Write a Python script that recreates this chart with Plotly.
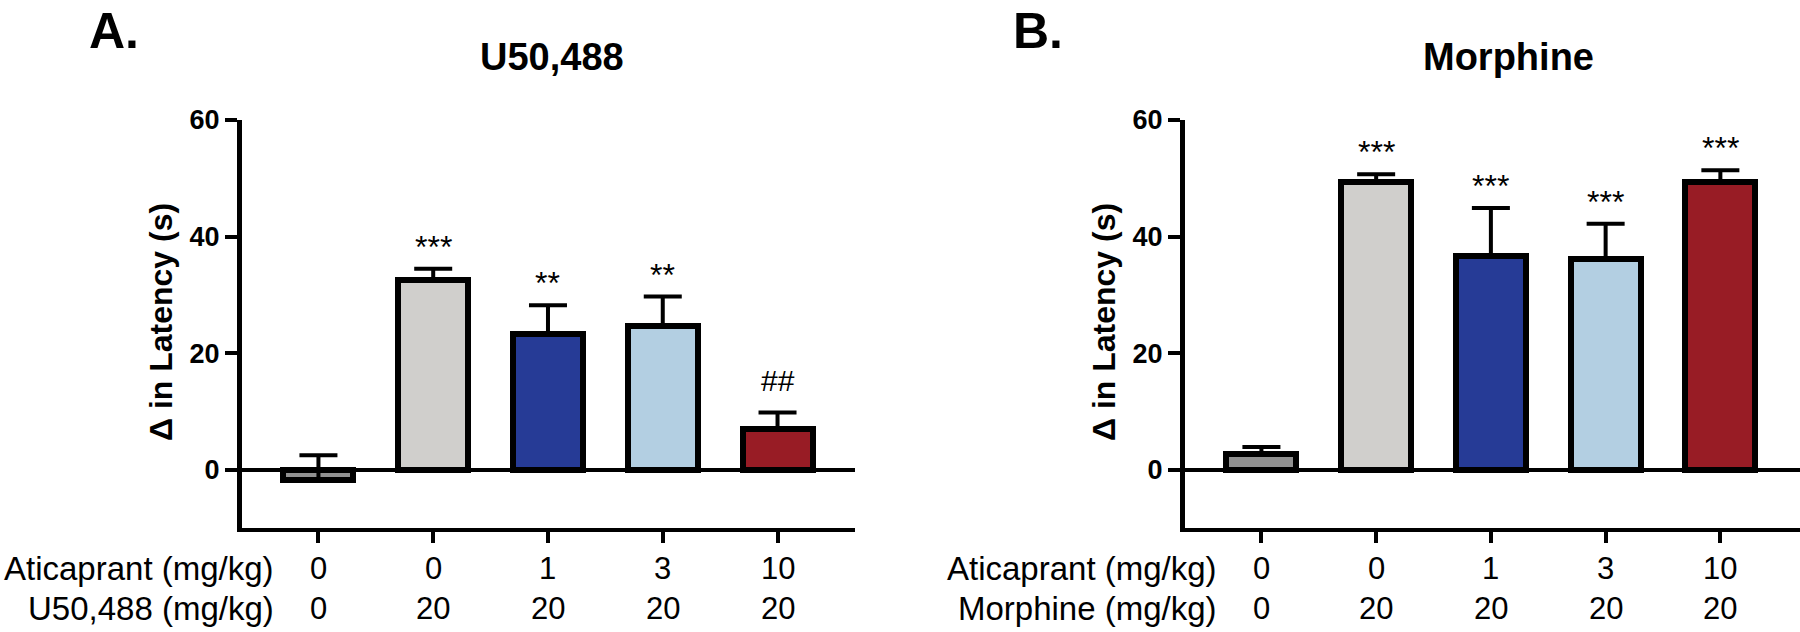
import plotly.graph_objects as go

# groups: vehicle, agonist alone, agonist + aticaprant 1/3/10 mg/kg
positions = [0, 1, 2, 3, 4]
aticaprant_dose = ["0", "0", "1", "3", "10"]
agonist_dose = ["0", "20", "20", "20", "20"]
bar_colors = ["#919191", "#d0cfcc", "#263b96", "#b3cfe2", "#981c25"]

u50_mean = [-1.8, 32.6, 23.2, 24.7, 7.0]
u50_sem = [4.3, 1.9, 5.0, 5.0, 2.8]
u50_marks = ["", "***", "**", "**", "##"]

morph_mean = [2.7, 49.3, 36.7, 36.1, 49.3]
morph_sem = [1.2, 1.4, 8.2, 6.1, 2.1]
morph_marks = ["", "***", "***", "***", "***"]

FONT = "Liberation Sans, Arial, sans-serif"
W, H = 1800, 632

fig = go.Figure()

panels = [
    dict(mean=u50_mean, sem=u50_sem, marks=u50_marks, xa="x", ya="y",
         letter="A.", title="U50,488", row2="U50,488 (mg/kg)",
         letter_x=114, title_x=552, ytitle_x=161, rowlab_x=276),
    dict(mean=morph_mean, sem=morph_sem, marks=morph_marks, xa="x2", ya="y2",
         letter="B.", title="Morphine", row2="Morphine (mg/kg)",
         letter_x=1038, title_x=1508, ytitle_x=1104, rowlab_x=1219),
]

annotations = []
for p in panels:
    fig.add_trace(go.Bar(
        x=positions, y=p["mean"], xaxis=p["xa"], yaxis=p["ya"],
        width=0.61,
        marker=dict(color=bar_colors, line=dict(color="black", width=6)),
        error_y=dict(type="data", array=p["sem"], arrayminus=[0] * 5,
                     symmetric=False, color="black", thickness=4, width=19),
        showlegend=False, hoverinfo="skip",
    ))

    # significance marks above the error bars
    for i, m in enumerate(p["marks"]):
        if not m:
            continue
        star = "*" in m
        annotations.append(dict(
            x=positions[i], y=p["mean"][i] + p["sem"][i], xref=p["xa"], yref=p["ya"],
            text=m, showarrow=False, xanchor="center", yanchor="bottom",
            yshift=2 if star else 14,
            font=dict(family=FONT, size=32 if star else 30, color="black"),
        ))

    # dose rows under the x axis
    for i in range(5):
        annotations.append(dict(
            x=positions[i], y=1 - 568 / H, xref=p["xa"], yref="paper",
            text=aticaprant_dose[i], showarrow=False, xanchor="center", yanchor="middle",
            font=dict(family=FONT, size=31, color="black"),
        ))
        annotations.append(dict(
            x=positions[i], y=1 - 608 / H, xref=p["xa"], yref="paper",
            text=agonist_dose[i], showarrow=False, xanchor="center", yanchor="middle",
            font=dict(family=FONT, size=31, color="black"),
        ))
    annotations.append(dict(
        x=p["rowlab_x"] / W, y=1 - 568 / H, xref="paper", yref="paper",
        text="Aticaprant (mg/kg)", showarrow=False, xanchor="right", yanchor="middle",
        font=dict(family=FONT, size=33, color="black"),
    ))
    annotations.append(dict(
        x=p["rowlab_x"] / W, y=1 - 608 / H, xref="paper", yref="paper",
        text=p["row2"], showarrow=False, xanchor="right", yanchor="middle",
        font=dict(family=FONT, size=33, color="black"),
    ))

    # panel letter, title, y-axis title
    annotations.append(dict(
        x=p["letter_x"] / W, y=1 - 31 / H, xref="paper", yref="paper",
        text=p["letter"], showarrow=False, xanchor="center", yanchor="middle",
        font=dict(family=FONT, size=50, color="black", weight="bold"),
    ))
    annotations.append(dict(
        x=p["title_x"] / W, y=1 - 57 / H, xref="paper", yref="paper",
        text=p["title"], showarrow=False, xanchor="center", yanchor="middle",
        font=dict(family=FONT, size=38, color="black", weight="bold"),
    ))
    annotations.append(dict(
        x=p["ytitle_x"] / W, y=1 - 322 / H, xref="paper", yref="paper",
        text="\u0394 in Latency (s)", showarrow=False, textangle=-90,
        xanchor="center", yanchor="middle",
        font=dict(family=FONT, size=32, color="black", weight="bold"),
    ))

xaxis_common = dict(
    showline=True, linecolor="black", linewidth=4,
    ticks="outside", ticklen=11, tickwidth=4, tickcolor="black",
    tickvals=positions, showticklabels=False,
    showgrid=False, zeroline=False, fixedrange=True, automargin=False,
)
yaxis_common = dict(
    range=[-10, 60], domain=[1 - 528 / H, 1 - 120 / H],
    showline=True, linecolor="black", linewidth=5,
    ticks="outside", ticklen=12, tickwidth=4, tickcolor="black",
    tickvals=[0, 20, 40, 60],
    tickfont=dict(family=FONT, size=27, color="black", weight="bold"),
    showgrid=False, zeroline=True, zerolinecolor="black", zerolinewidth=4,
    fixedrange=True, automargin=False,
)

fig.update_layout(
    width=W, height=H,
    margin=dict(l=0, r=0, t=0, b=0),
    paper_bgcolor="white", plot_bgcolor="white",
    bargap=0,
    xaxis=dict(xaxis_common, domain=[242 / W, 855 / W], range=[-0.666, 4.675]),
    yaxis=dict(yaxis_common, anchor="x"),
    xaxis2=dict(xaxis_common, domain=[1185 / W, 1.0], range=[-0.666, 4.694], anchor="y2"),
    yaxis2=dict(yaxis_common, anchor="x2"),
    annotations=annotations,
)

fig.write_html(
    "out.html",
    config={"displayModeBar": False},
    post_script="document.body.style.margin='0';document.body.style.overflow='hidden';",
)
